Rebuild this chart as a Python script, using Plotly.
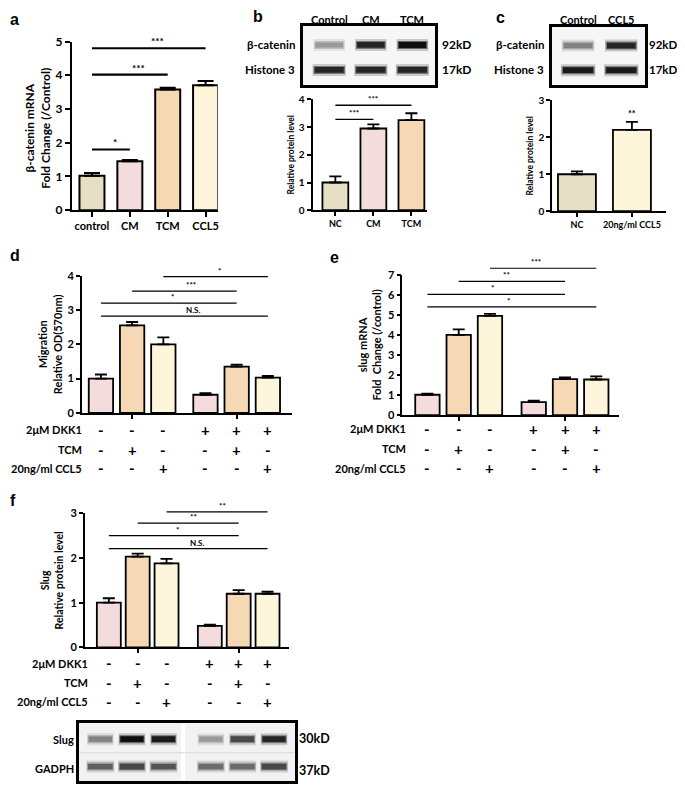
import plotly.graph_objects as go

# page body adds an 8px margin, so the figure is drawn 8px smaller and positions are shifted
OFF = 8
W, H = 685 - OFF, 793 - OFF

# ---- data ----
a_groups = ["control", "CM", "TCM", "CCL5"]
a_vals = [1.02, 1.45, 3.58, 3.70]
a_err = [0.08, 0.04, 0.05, 0.13]
a_colors = ["#E6DFC3", "#F4DCDC", "#F6D8B4", "#FEF6DA"]
a_sig_from = [0, 0, 0]
a_sig_to = [1, 2, 3]
a_sig_y = [1.8, 4.02, 4.8]
a_sig_text = ["*", "***", "***"]

b_groups = ["NC", "CM", "TCM"]
b_vals = [1.0, 2.95, 3.25]
b_err = [0.22, 0.15, 0.25]
b_colors = ["#E6DFC3", "#F4DCDC", "#F6D8B4"]
b_sig_from = [0, 0]
b_sig_to = [1, 2]
b_sig_y = [3.28, 3.79]
b_sig_text = ["***", "***"]
b_lanes = ["Control", "CM", "TCM"]
b_beta = [0.35, 0.85, 0.95]
b_histone = [0.85, 0.85, 0.85]

c_groups = ["NC", "20ng/ml CCL5"]
c_vals = [1.0, 2.2]
c_err = [0.08, 0.22]
c_colors = ["#E6DFC3", "#FEF6DA"]
c_sig_text = ["", "**"]
c_lanes = ["Control", "CCL5"]
c_beta = [0.45, 0.85]
c_histone = [0.9, 0.9]

dkk1 = ["-", "-", "-", "+", "+", "+"]
tcm = ["-", "+", "-", "-", "+", "-"]
ccl5 = ["-", "-", "+", "-", "-", "+"]
cond_labels = ["2\u03bcM DKK1", "TCM", "20ng/ml CCL5"]
six_colors = ["#F4DCDC", "#F6D8B4", "#FEF6DA", "#F4DCDC", "#F6D8B4", "#FEF6DA"]

d_vals = [1.0, 2.55, 2.0, 0.53, 1.35, 1.03]
d_err = [0.12, 0.10, 0.20, 0.05, 0.06, 0.05]
d_sig_from = [2, 1, 0, 0]
d_sig_to = [5, 4, 4, 5]
d_sig_y = [3.97, 3.55, 3.2, 2.82]
d_sig_text = ["*", "***", "*", "N.S."]

e_vals = [1.02, 4.0, 4.95, 0.65, 1.8, 1.78]
e_err = [0.06, 0.28, 0.10, 0.07, 0.08, 0.15]
e_sig_from = [2, 1, 0, 0]
e_sig_to = [5, 4, 4, 5]
e_sig_y = [7.32, 6.67, 6.02, 5.4]
e_sig_text = ["***", "**", "*", "*"]

f_vals = [1.0, 2.03, 1.88, 0.48, 1.2, 1.2]
f_err = [0.10, 0.07, 0.10, 0.03, 0.08, 0.05]
f_sig_from = [2, 1, 0, 0]
f_sig_to = [5, 4, 4, 5]
f_sig_y = [3.03, 2.78, 2.5, 2.21]
f_sig_text = ["**", "**", "*", "N.S."]
f_slug = [0.45, 0.95, 0.9, 0.35, 0.7, 0.85]
f_gapdh = [0.6, 0.7, 0.65, 0.55, 0.55, 0.7]

FONT = "Lato"
fig = go.Figure()
annots = []
shapes = []
scales = {}


def ax(n):
    return "" if n == 1 else str(n)


def px_x(p):
    return (p - OFF) / W


def px_y(p):
    return 1 - (p - OFF) / H


def six_pos(gap):
    return [i + (gap if i >= 3 else 0) for i in range(6)]


def bar_axes(n, x0, x1, ytop, ybot, xrange, yrange, tickvals, ticktext, tsize, ticklen, lw,
             title, title_size, standoff):
    xdom = [px_x(x0), px_x(x1)]
    ydom = [px_y(ybot), px_y(ytop)]
    scales[n] = (xdom, xrange, ydom, yrange)
    xa = dict(domain=xdom, range=xrange, showline=True, linecolor="black",
              linewidth=lw, ticks="outside", ticklen=ticklen, tickwidth=lw, tickcolor="black",
              tickvals=tickvals, ticktext=ticktext, showgrid=False, zeroline=False,
              tickfont=dict(size=tsize, family=FONT, weight="bold", color="black"),
              anchor="y" + ax(n))
    ya = dict(domain=ydom, range=yrange, showline=True, linecolor="black",
              linewidth=lw, ticks="outside", ticklen=ticklen, tickwidth=lw, tickcolor="black",
              dtick=1, showgrid=False, zeroline=False,
              tickfont=dict(size=tsize + 1, family=FONT, weight="bold", color="black"),
              title=dict(text=title, standoff=standoff,
                         font=dict(size=title_size, family=FONT, weight="bold", color="black")),
              anchor="x" + ax(n))
    fig.layout["xaxis" + ax(n)] = xa
    fig.layout["yaxis" + ax(n)] = ya


def to_paper(dom, rng, v):
    return dom[0] + (v - rng[0]) / (rng[1] - rng[0]) * (dom[1] - dom[0])


def bars(n, xpos, vals, errs, colors, width, cap, lw):
    fig.add_trace(go.Bar(
        x=xpos, y=vals, width=width,
        marker=dict(color=colors, line=dict(color="black", width=lw)),
        error_y=dict(type="data", array=errs, arrayminus=[0] * len(errs), symmetric=False,
                     color="black", thickness=lw, width=cap),
        xaxis="x" + ax(n), yaxis="y" + ax(n), showlegend=False, hoverinfo="skip"))


def sig(n, xpos, s_from, s_to, s_y, s_text, size, lw):
    # mapped through the axis scales to paper units, so marks above the axis top still show
    xdom, xr, ydom, yr = scales[n]
    for i, j, y, t in zip(s_from, s_to, s_y, s_text):
        yp = to_paper(ydom, yr, y)
        shapes.append(dict(type="line", xref="paper", yref="paper",
                           x0=to_paper(xdom, xr, xpos[i]), x1=to_paper(xdom, xr, xpos[j]),
                           y0=yp, y1=yp, line=dict(color="black", width=lw)))
        annots.append(dict(x=to_paper(xdom, xr, (xpos[i] + xpos[j]) / 2), y=yp,
                           xref="paper", yref="paper", text=t, showarrow=False,
                           yanchor="bottom", yshift=-1,
                           font=dict(size=size, family=FONT, weight="bold")))


def label(text, x, y, size, xanchor="center", family=FONT, angle=0):
    annots.append(dict(x=px_x(x), y=px_y(y), xref="paper", yref="paper", text=text,
                       showarrow=False, xanchor=xanchor, yanchor="middle", textangle=angle,
                       font=dict(size=size, family=family, weight="bold")))


def cond_rows(n, xpos, label_x, rows_y):
    for lab, signs, y in zip(cond_labels, [dkk1, tcm, ccl5], rows_y):
        label(lab, label_x, y, 11, xanchor="right")
        for xp, s in zip(xpos, signs):
            annots.append(dict(x=xp, y=px_y(y), xref="x" + ax(n), yref="paper", text=s,
                               showarrow=False, yanchor="middle",
                               font=dict(size=15, family=FONT, weight="bold")))


def blot_axes(n, x0, x1, ytop, ybot, xrange, bg):
    fig.layout["xaxis%d" % n] = dict(domain=[px_x(x0), px_x(x1)], range=xrange, showline=True,
                                     mirror=True, linecolor="black", linewidth=2.5,
                                     showticklabels=False, ticks="", showgrid=False,
                                     zeroline=False, anchor="y%d" % n)
    fig.layout["yaxis%d" % n] = dict(domain=[px_y(ybot), px_y(ytop)], range=[0, 2], showline=True,
                                     mirror=True, linecolor="black", linewidth=2.5,
                                     showticklabels=False, ticks="", showgrid=False,
                                     zeroline=False, anchor="x%d" % n)
    shapes.append(dict(type="rect", xref="x%d domain" % n, yref="y%d domain" % n,
                       x0=0, x1=1, y0=0, y1=1, fillcolor=bg, line=dict(width=0), layer="below"))


def bands(n, xpos, intens, row_y, half):
    for xp, v in zip(xpos, intens):
        g = int(235 - 232 * v)
        for w, a, h in [(12, 0.2, half * 1.05), (8, 0.5, half), (4.5 + 1.5 * v, 1.0, half * 0.92)]:
            fig.add_trace(go.Scatter(
                x=[xp - h, xp + h], y=[row_y, row_y], mode="lines",
                line=dict(color="rgba(%d,%d,%d,%.2f)" % (g, g, g, a), width=w),
                xaxis="x%d" % n, yaxis="y%d" % n, showlegend=False, hoverinfo="skip"))


# ---- panel a ----
a_x = list(range(len(a_groups)))
bar_axes(1, 72, 218, 34, 206, [-0.53, 3.32], [0, 5], a_x, a_groups, 11, 5, 2, "", 12, 0)
bars(1, a_x, a_vals, a_err, a_colors, 0.66, 8, 2)
sig(1, a_x, a_sig_from, a_sig_to, a_sig_y, a_sig_text, 10, 2.2)
label("\u03b2-catenin mRNA<br>Fold Change (/Control)", 38, 122, 12, angle=-90)

# ---- panel b ----
b_x = list(range(len(b_groups)))
bar_axes(2, 313, 428, 93, 206, [-0.6, 2.42], [0, 4], b_x, b_groups, 9, 4, 1.8,
         "Relative protein level", 8.5, 3)
bars(2, b_x, b_vals, b_err, b_colors, 0.68, 6, 1.8)
sig(2, b_x, b_sig_from, b_sig_to, b_sig_y, b_sig_text, 8, 1.4)

# ---- panel c ----
c_x = list(range(len(c_groups)))
bar_axes(3, 553, 667, 94, 207, [-0.45, 1.62], [0, 3], c_x, c_groups, 9, 4, 1.8,
         "Relative protein level", 8.5, 3)
bars(3, c_x, c_vals, c_err, c_colors, 0.69, 6, 1.8)
for xp, v, e, t in zip(c_x, c_vals, c_err, c_sig_text):
    annots.append(dict(x=xp, y=v + e, xref="x3", yref="y3", text=t, showarrow=False,
                       yanchor="bottom", yshift=1, font=dict(size=9, family=FONT, weight="bold")))

# ---- panel d ----
d_x = six_pos(0.35)
bar_axes(4, 82, 292, 272.7, 412.7, [-0.61, 6.11], [0, 4], [d_x[1], d_x[4]], ["", ""], 10, 4, 1.8,
         "Migration<br>Relative OD(570nm)", 11, 3)
bars(4, d_x, d_vals, d_err, six_colors, 0.78, 6, 1.8)
sig(4, d_x, d_sig_from, d_sig_to, d_sig_y, d_sig_text, 8, 1.2)
cond_rows(4, d_x, 84, [430, 450, 469])

# ---- panel e ----
e_x = six_pos(0.4)
bar_axes(5, 403, 620, 271.7, 415, [-0.8, 6.13], [0, 7], [e_x[1], e_x[4]], ["", ""], 10, 4, 1.8,
         "slug mRNA<br>Fold  Change (/control)", 11, 4)
bars(5, e_x, e_vals, e_err, six_colors, 0.78, 6, 1.8)
sig(5, e_x, e_sig_from, e_sig_to, e_sig_y, e_sig_text, 8, 1.2)
cond_rows(5, e_x, 409, [429, 449, 469])

# ---- panel f ----
f_x = six_pos(0.5)
bar_axes(6, 85, 289, 515, 651.7, [-0.83, 6.23], [0, 3], [f_x[1], f_x[4]], ["", ""], 10, 4, 1.8,
         "Slug<br>Relative protein level", 10.5, 5)
bars(6, f_x, f_vals, f_err, six_colors, 0.83, 6, 1.8)
sig(6, f_x, f_sig_from, f_sig_to, f_sig_y, f_sig_text, 8, 1.2)
cond_rows(6, f_x, 90, [667.7, 687.7, 707.3])

# ---- blots ----
bl_b = list(range(len(b_lanes)))
blot_axes(7, 303, 436, 18, 78, [-0.64, 2.55], "#F6F6F6")
bands(7, bl_b, b_beta, 1.35, 0.36)
bands(7, bl_b, b_histone, 0.5, 0.38)
for xp, t in zip(bl_b, b_lanes):
    annots.append(dict(x=xp, y=px_y(12), xref="x7", yref="paper", text=t, showarrow=False,
                       yanchor="middle", font=dict(size=11, family=FONT, weight="bold")))

bl_c = list(range(len(c_lanes)))
blot_axes(8, 553, 646, 19, 78, [-0.6, 1.55], "#F6F6F6")
bands(8, bl_c, c_beta, 1.35, 0.36)
bands(8, bl_c, c_histone, 0.5, 0.38)
for xp, t in zip(bl_c, c_lanes):
    annots.append(dict(x=xp, y=px_y(12), xref="x8", yref="paper", text=t, showarrow=False,
                       yanchor="middle", font=dict(size=11, family=FONT, weight="bold")))

for xr in [297, 547]:
    label("\u03b2-catenin", xr, 37, 11.5, xanchor="right")
    label("Histone 3", xr, 63, 11.5, xanchor="right")
for xl, fs in [(441, 12), (648, 11.5)]:
    label("92kD", xl, 37, fs, xanchor="left")
    label("17kD", xl, 63, fs, xanchor="left")

blot_axes(9, 79, 295, 729, 788, [-0.68, 6.15], "#F2F2F2")
bands(9, f_x, f_slug, 1.45, 0.4)
bands(9, f_x, f_gapdh, 0.5, 0.42)
shapes.append(dict(type="rect", xref="x9", yref="y9 domain", x0=f_x[2] + 0.55, x1=f_x[2] + 0.68,
                   y0=0.02, y1=0.98, fillcolor="white", line=dict(width=0)))
shapes.append(dict(type="line", xref="x9 domain", yref="y9", x0=0, x1=1, y0=0.98, y1=0.98,
                   line=dict(color="#D8D8D8", width=1)))
label("Slug", 76, 746, 11, xanchor="right")
label("GADPH", 76, 775, 11, xanchor="right")
label("30kD", 297, 745, 12.5, xanchor="left")
label("37kD", 297, 777, 12.5, xanchor="left")

# ---- panel letters ----
for t, x, y in [("a", 8, 12), ("b", 251, 9), ("c", 495, 10), ("d", 8, 252),
                ("e", 328, 254), ("f", 8, 502)]:
    label(t, x, y, 16, xanchor="left", family="Arial")

fig.update_layout(
    width=W, height=H, margin=dict(l=0, r=0, t=0, b=0),
    plot_bgcolor="white", paper_bgcolor="white", showlegend=False,
    font=dict(family=FONT, color="black"),
    annotations=annots, shapes=shapes,
)

fig.write_html("out.html")
